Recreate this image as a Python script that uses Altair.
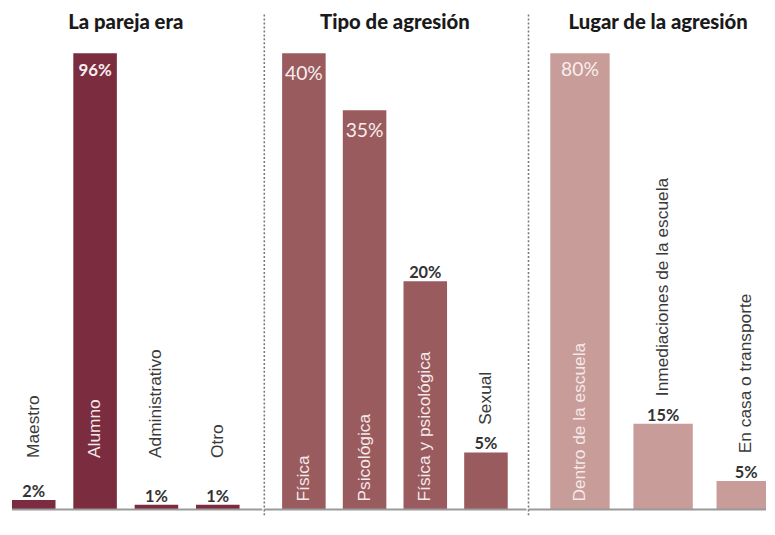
import altair as alt
import pandas as pd

# ---- data ----
titles = ["La pareja era", "Tipo de agresión", "Lugar de la agresión"]

cats1 = ["Maestro", "Alumno", "Administrativo", "Otro"]
vals1 = [2, 96, 1, 1]

cats2 = ["Física", "Psicológica", "Física y psicológica", "Sexual"]
vals2 = [40, 35, 20, 5]

cats3 = ["Dentro de la escuela", "Inmediaciones de la escuela", "En casa o transporte"]
vals3 = [80, 15, 5]

colors = ["#7b2c3f", "#9a5b5e", "#c89c98"]

H = 508
Y_RANGE = [502, 41]


def panel(cats, vals, color, title, title_x, width, xrange, pad,
          in_weight, in_size, in_dy, floor=None, clip=False, sep=True, base_x0=0):
    df = pd.DataFrame({"cat": cats, "value": vals})
    vmax = max(vals)
    yscale = alt.Scale(domain=[0, vmax], range=Y_RANGE, nice=False, zero=True)
    xscale = alt.Scale(range=xrange, paddingInner=pad, paddingOuter=0)
    base = alt.Chart(df).transform_calculate(
        ratio=f"datum.value / {vmax}",
        lab="datum.value + '%'",
        zero="0",
    )
    x = alt.X("cat:N", sort=cats, scale=xscale, axis=None)
    y = alt.Y("value:Q", scale=yscale, axis=None)
    y0 = alt.Y("zero:Q", scale=yscale, axis=None)

    layers = []
    layers.append(base.mark_bar(color=color, clip=clip).encode(x=x, y=y))

    # baseline
    layers.append(
        alt.Chart(pd.DataFrame({"a": [0]})).mark_rule(color="#9a9a9a", strokeWidth=2).encode(
            y=alt.Y("a:Q", scale=yscale, axis=None),
            x=alt.value(base_x0), x2=alt.value(width))
    )

    # percentage labels
    layers.append(
        base.transform_filter("datum.ratio < 0.8").mark_text(
            font="Lato", fontWeight="bold", fontSize=16.5, color="#333333",
            baseline="alphabetic", dy=-3).encode(x=x, y=y, text="lab:N")
    )
    layers.append(
        base.transform_filter("datum.ratio >= 0.8").mark_text(
            font="Lato", fontWeight=in_weight, fontSize=in_size, color="#f7eeee",
            baseline="top", dy=in_dy).encode(x=x, y=y, text="lab:N")
    )

    # category labels (vertical)
    layers.append(
        base.transform_filter("datum.ratio >= 0.4").mark_text(
            font="Liberation Sans", fontSize=17.5, color="#f4e8ea", angle=270,
            align="left", baseline="middle",
            dx=floor if floor is not None else 8).encode(x=x, y=y0, text="cat:N")
    )
    layers.append(
        base.transform_filter("datum.ratio < 0.4").mark_text(
            font="Liberation Sans", fontSize=17.5, color="#3a3a3a", angle=270,
            align="left", baseline="middle",
            dx=floor if floor is not None else 28).encode(
            x=x, y=(y0 if floor is not None else y), text="cat:N")
    )

    # title
    layers.append(
        alt.Chart(pd.DataFrame({"t": [title]})).mark_text(
            font="Lato", fontWeight=900, fontSize=20.5, color="#1a1a1a",
            align="center", baseline="alphabetic").encode(
            text="t:N", x=alt.value(title_x), y=alt.value(16.5))
    )

    if sep:
        layers.append(
            alt.Chart(pd.DataFrame({"a": [0]})).mark_rule(
                color="#7a7a7a", strokeWidth=1.6, strokeDash=[2, 2]).encode(
                x=alt.value(0), y=alt.value(2), y2=alt.value(H))
        )

    return alt.layer(*layers).properties(width=width, height=H)


p1 = panel(cats1, vals1, colors[0], titles[0], 119, 257, [4, 234], 0.29,
           "bold", 17, 10, floor=52, sep=False, base_x0=4)
p2 = panel(cats2, vals2, colors[1], titles[1], 132, 265, [18, 246], 0.2826,
           "normal", 19.5, 12)
p3 = panel(cats3, vals3, colors[2], titles[2], 131, 240, [22, 250], 0.2857,
           "normal", 19.5, 8, clip=True)

chart = alt.hconcat(p1, p2, p3, spacing=0).resolve_scale(
    x="independent", y="independent"
).properties(
    padding={"left": 0, "top": 2, "right": 0, "bottom": 0},
    background="white",
).configure_view(stroke=None)

chart.save("out.html", embed_options={"renderer": "svg", "actions": False})
